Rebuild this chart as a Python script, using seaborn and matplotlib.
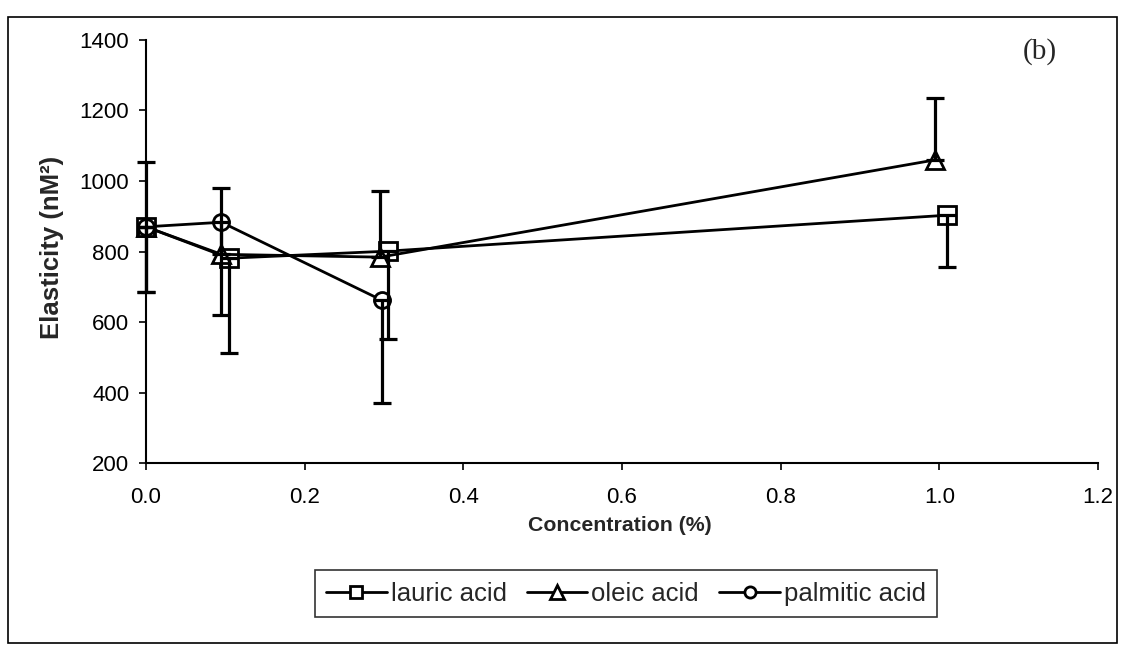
import matplotlib
matplotlib.use("Agg")
import matplotlib.pyplot as plt
from matplotlib.patches import Rectangle
import seaborn as sns

# ------------ Data ------------
lauric_x = [0.0, 0.105, 0.305, 1.01]
lauric_y = [870, 781, 801, 903]
lauric_err_low = [185, 269, 249, 147]

oleic_x = [0.0, 0.095, 0.295, 0.995]
oleic_y = [870, 792, 784, 1060]
oleic_err_high = [184, 187, 188, 175]

palmitic_x = [0.0, 0.095, 0.297]
palmitic_y = [870, 883, 662]
palmitic_err_low = [185, 263, 292]

x_ticks = [0.0, 0.2, 0.4, 0.6, 0.8, 1.0, 1.2]
y_ticks = [200, 400, 600, 800, 1000, 1200, 1400]

# ------------ Style ------------
sns.set_style("ticks")
plt.rcParams["font.family"] = ["Liberation Sans", "DejaVu Sans"]

fig = plt.figure(figsize=(11.3, 6.45), dpi=100)
ax = fig.add_axes([146 / 1130, 1 - 463 / 645, (1098 - 146) / 1130, (463 - 40) / 645])

line_kw = dict(color="black", linewidth=2.0, markersize=12.5,
               markerfacecolor="white", markeredgecolor="black",
               markeredgewidth=2.0, clip_on=False)

sns.lineplot(x=lauric_x, y=lauric_y, marker="s", label="lauric acid", ax=ax, **line_kw)
sns.lineplot(x=oleic_x, y=oleic_y, marker="^", label="oleic acid", ax=ax,
             **{**line_kw, "markersize": 13.5})
sns.lineplot(x=palmitic_x, y=palmitic_y, marker="o", label="palmitic acid", ax=ax,
             **{**line_kw, "markersize": 11.5})

# error bars: one-sided, as in the original
err_kw = dict(fmt="none", ecolor="black", elinewidth=2.3, capsize=6.5, capthick=2.3,
              zorder=5, clip_on=False)
for x, y, low, high in [
    (lauric_x, lauric_y, lauric_err_low, [0] * len(lauric_x)),
    (oleic_x, oleic_y, [0] * len(oleic_x), oleic_err_high),
    (palmitic_x, palmitic_y, palmitic_err_low, [0] * len(palmitic_x)),
]:
    eb = ax.errorbar(x, y, yerr=[low, high], **err_kw)
    for art in eb.lines[1] + eb.lines[2]:
        art.set_clip_on(False)

ax.set_xlim(0, 1.2)
ax.set_ylim(200, 1400)
ax.set_xticks(x_ticks)
ax.set_xticklabels([f"{t:.1f}" for t in x_ticks])
ax.set_yticks(y_ticks)
ax.tick_params(axis="both", labelsize=16, direction="out", length=5, width=1.2, colors="black")
ax.tick_params(axis="x", pad=12)
ax.tick_params(axis="y", pad=7)
for side in ["left", "bottom"]:
    ax.spines[side].set_color("black")
    ax.spines[side].set_linewidth(1.5)
sns.despine(ax=ax)

ax.set_xlabel("Concentration (%)", fontsize=15.3, fontweight="bold")
ax.set_ylabel("Elasticity (nM²)", fontsize=18.5, fontweight="bold")
ax.xaxis.set_label_coords(0.498, -0.126)
ax.yaxis.set_label_coords(-0.086, 0.51)

ax.text(0.939, 0.972, "(b)", transform=ax.transAxes, ha="center", va="center",
        fontsize=21, family=["Liberation Serif", "DejaVu Serif"])

# legend below the plot, one row
handles, labels = ax.get_legend_handles_labels()
ax.get_legend().remove()
leg = fig.legend(handles, labels, loc="center", bbox_to_anchor=(626 / 1130, 0.0798), ncol=3,
                 fontsize=18.5, frameon=True, fancybox=False, edgecolor="black",
                 handlelength=2.35, handletextpad=0.15, columnspacing=0.8,
                 borderpad=0.45, borderaxespad=0, markerscale=0.7)
leg.get_frame().set_linewidth(1.2)

# outer chart border
fig.patches.append(Rectangle((8 / 1130, 2 / 645), 1109 / 1130, 626 / 645,
                             transform=fig.transFigure, fill=False,
                             edgecolor="black", linewidth=1.2))

fig.savefig("out.png", dpi=100)
